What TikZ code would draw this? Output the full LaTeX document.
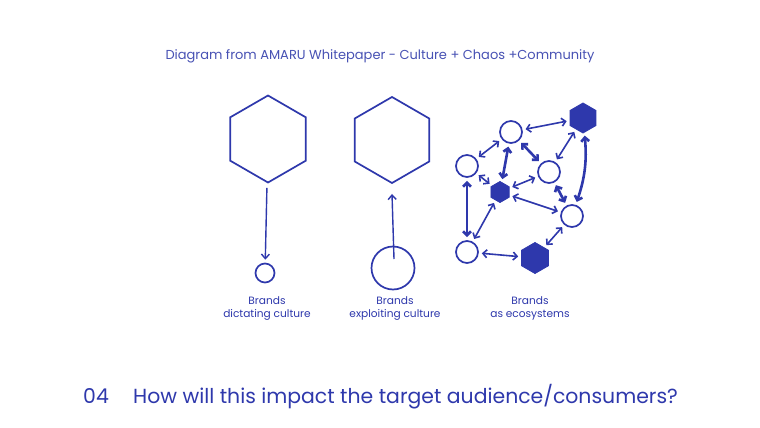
\documentclass[tikz,border=0pt]{standalone}
\usepackage{fontspec}
\setmainfont{Poppins}
\usetikzlibrary{shapes.geometric,arrows.meta,calc}
\definecolor{ink}{RGB}{46,56,172}
\definecolor{inklight}{RGB}{72,82,180}
\begin{document}
\begin{tikzpicture}[x=1pt,y=-1pt,
  hexo/.style={regular polygon,regular polygon sides=6,shape border rotate=30,draw=ink,line width=1.7pt,inner sep=0pt,minimum size=#1},
  hexf/.style={regular polygon,regular polygon sides=6,shape border rotate=30,draw=ink,fill=ink,line width=0.8pt,inner sep=0pt,minimum size=#1},
  circ/.style={circle,draw=ink,line width=1.7pt,inner sep=0pt,minimum size=#1},
  arr/.style={draw=ink,line width=1.4pt,-{Straight Barb[length=4.5pt,width=8pt]}},
  darr/.style={draw=ink,line width=1.6pt,{Straight Barb[length=4pt,width=8pt]}-{Straight Barb[length=4pt,width=8pt]},shorten <=3pt,shorten >=3pt},
  thick2/.style={line width=2.6pt},
  lbl/.style={text=ink,font=\fontsize{10.6}{13}\selectfont,align=center}
]
\useasboundingbox[fill=white] (0,0) rectangle (760,428);

\node[text=inklight,font=\fontsize{13}{15}\selectfont] (title) at (380,56) {Diagram from AMARU Whitepaper - Culture + Chaos +Community};

% left pair
\node[hexo=87] (hex1) at (268,139) {};
\node[circ=19] (c1) at (265,273) {};
\draw[arr,shorten <=5pt,shorten >=3pt] (hex1) -- (c1);

% middle pair
\node[hexo=86] (hex2) at (392,140) {};
\node[circ=43] (c2) at (393,268) {};
\draw[arr] ($(c2.center)+(1,-9)$) -- ($(hex2.south)+(0,10)$);

% ecosystem
\node[circ=22] (A) at (511,132) {};
\node[circ=22] (B) at (467,166) {};
\node[circ=22] (C) at (549,172) {};
\node[circ=22] (D) at (572,216) {};
\node[circ=22] (E) at (467,252) {};
\node[hexf=30] (H1) at (583,118) {};
\node[hexf=21] (H2) at (500,192) {};
\node[hexf=31] (H3) at (535,258) {};

\draw[darr] (A) -- (H1);
\draw[darr] (A) -- (B);
\draw[darr,thick2] (A) -- (H2);
\draw[darr,thick2] (A) -- (C);
\draw[darr] (H1) -- (C);
\draw[darr,thick2] (H1) to[bend left=12] (D);
\draw[darr] (B) -- (H2);
\draw[darr] (C) -- (H2);
\draw[darr,thick2] (C) -- (D);
\draw[darr] (H2) -- (D);
\draw[darr,thick2] (B) -- (E);
\draw[darr] (H2) -- (E);
\draw[darr] (D) -- (H3);
\draw[darr] (E) -- (H3);

% labels
\node[lbl] (l1) at (267,308.5) {Brands\\dictating culture};
\node[lbl] (l2) at (395,308.5) {Brands\\exploiting culture};
\node[lbl] (l3) at (530,308.5) {Brands\\as ecosystems};

% bottom question
\node[text=ink,font=\fontsize{20.4}{22}\selectfont,anchor=base west,inner sep=0pt] (num) at (83,403) {04};
\node[text=ink,font=\fontsize{20.4}{22}\selectfont,anchor=base west,inner sep=0pt] (q) at (133,403) {How will this impact the target audience/consumers?};
\end{tikzpicture}
\end{document}
